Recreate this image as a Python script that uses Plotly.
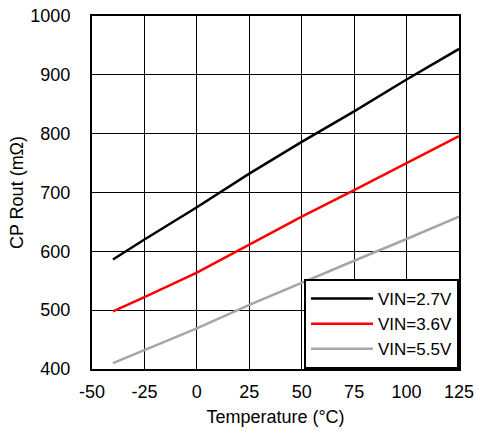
import plotly.graph_objects as go

temp = [-40, -25, 0, 25, 50, 75, 100, 125]
vin27 = [586, 620, 675, 732, 786, 838, 892, 944]
vin36 = [498, 522, 564, 612, 659, 704, 750, 796]
vin55 = [410, 432, 469, 509, 547, 584, 621, 659]
names = ["VIN=2.7V", "VIN=3.6V", "VIN=5.5V"]
colors = ["#000000", "#ff0000", "#a6a6a6"]
xticks = [-50, -25, 0, 25, 50, 75, 100, 125]
yticks = [400, 500, 600, 700, 800, 900, 1000]

fig = go.Figure()
for ys, n, c in zip([vin27, vin36, vin55], names, colors):
    fig.add_trace(go.Scatter(x=temp, y=ys, name=n, mode="lines",
                             line=dict(color=c, width=2.5)))

fam = "Liberation Sans, Arial, sans-serif"
font = dict(family=fam, size=18, color="#000000")
fig.update_layout(
    width=477, height=431,
    margin=dict(l=92, r=18, t=16, b=62),
    plot_bgcolor="white", paper_bgcolor="white",
    font=font,
    showlegend=True,
    legend=dict(x=1, y=0, xanchor="right", yanchor="bottom",
                bordercolor="black", borderwidth=2, bgcolor="white",
                font=dict(family=fam, size=17, color="#000000"),
                itemwidth=62, tracegroupgap=0),
)
fig.update_xaxes(range=[-50, 125], tickvals=xticks, ticktext=[str(v) for v in xticks],
                 showgrid=True, gridcolor="black", gridwidth=1,
                 showline=True, linecolor="black", linewidth=2, mirror=True,
                 ticks="", ticklabelstandoff=5, zeroline=False, automargin=False,
                 tickfont=dict(family=fam, size=18, color="#000000"),
                 title=dict(text="Temperature (°C)", standoff=10,
                            font=dict(family=fam, size=18, color="#000000")))
fig.update_yaxes(range=[400, 1000], tickvals=yticks, ticktext=[str(v) for v in yticks],
                 showgrid=True, gridcolor="black", gridwidth=1,
                 showline=True, linecolor="black", linewidth=2, mirror=True,
                 ticks="", ticklabelstandoff=16, zeroline=False, automargin=False,
                 tickfont=dict(family=fam, size=18, color="#000000"),
                 title=dict(text="CP Rout (mΩ)", standoff=2,
                            font=dict(family=fam, size=18, color="#000000")))
fig.write_html("out.html")
